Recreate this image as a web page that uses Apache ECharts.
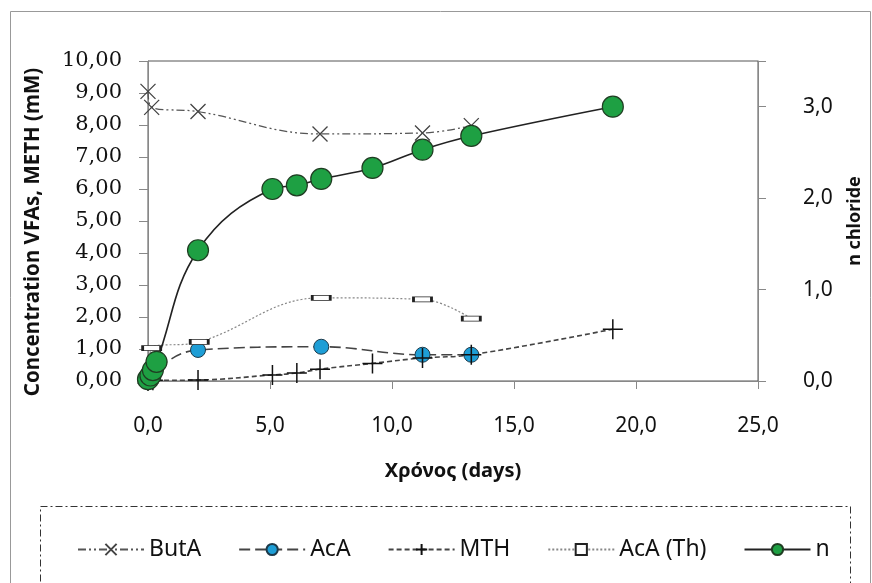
<!DOCTYPE html>
<html>
<head>
<meta charset="utf-8">
<script src="https://cdn.jsdelivr.net/npm/echarts@6/dist/echarts.min.js"></script>
<style>
  html, body { margin: 0; padding: 0; background: #fff; }
  #chart { width: 872px; height: 583px; }
</style>
</head>
<body>
<div id="chart"></div>
<script>
// values
const butaDays = [0, 0.15, 2.05, 7.05, 11.25, 13.25];
const butaVals = [9.05, 8.55, 8.42, 7.72, 7.75, 7.98];

const acaDays = [0, 0.25, 2.05, 7.1, 11.25, 13.25];
const acaVals = [0.05, 0.35, 0.97, 1.07, 0.82, 0.82];

const mthDays = [0, 0.2, 2.05, 5.1, 6.1, 7.05, 9.2, 11.25, 13.25, 19.05];
const mthVals = [0, 0.02, 0.03, 0.19, 0.25, 0.37, 0.55, 0.72, 0.82, 1.62];

const acaThDays = [0, 0.15, 2.1, 7.1, 11.25, 13.25];
const acaThVals = [0, 1.03, 1.22, 2.6, 2.55, 1.95];

const nDays = [0, 0.1, 0.2, 0.35, 2.05, 5.1, 6.1, 7.1, 9.2, 11.25, 13.25, 19.05];
const nVals = [0.02, 0.06, 0.12, 0.21, 1.43, 2.1, 2.14, 2.21, 2.33, 2.53, 2.68, 3.0];

const seriesNames = ['ButA', 'AcA', 'MTH', 'AcA (Th)', 'n'];

const pair = (xs, ys) => xs.map((x, i) => [x, ys[i]]);
const comma = (v, d) => v.toFixed(d).replace('.', ',');

const chart = echarts.init(document.getElementById('chart'));

const option = {
  backgroundColor: '#fff',
  animation: false,
  graphic: [
    {
      type: 'rect',
      shape: { x: 10.5, y: 11.5, width: 860, height: 580 },
      style: { fill: 'none', stroke: '#999', lineWidth: 1 },
      silent: true
    },
    {
      type: 'rect',
      shape: { x: 40.5, y: 506.5, width: 810, height: 90 },
      style: { fill: 'none', stroke: '#333', lineWidth: 1, lineDash: [7, 3, 2, 3] },
      silent: true
    }
  ],
  grid: {
    left: 148,
    right: 114,
    top: 61,
    bottom: 202,
    show: true,
    borderColor: '#555',
    borderWidth: 1
  },
  legend: {
    data: seriesNames,
    left: 72,
    top: 533,
    itemWidth: 66,
    itemHeight: 14,
    itemGap: 37,
    textStyle: { fontFamily: 'Noto Sans', fontSize: 23, color: '#111' }
  },
  xAxis: {
    type: 'value',
    min: 0,
    max: 25,
    interval: 5,
    name: 'Χρόνος (days)',
    nameLocation: 'middle',
    nameGap: 80,
    nameTextStyle: { fontFamily: 'Noto Sans', fontSize: 20, fontWeight: 'bold', color: '#111' },
    axisLine: { lineStyle: { color: '#888' } },
    axisTick: { length: 8, lineStyle: { color: '#888' } },
    axisLabel: {
      margin: 35,
      fontFamily: 'Noto Sans',
      fontSize: 21,
      color: '#111',
      formatter: v => comma(v, 1)
    },
    splitLine: { show: false }
  },
  yAxis: [
    {
      type: 'value',
      min: 0,
      max: 10,
      interval: 1,
      name: 'Concentration VFAs, METH (mM)',
      nameLocation: 'middle',
      nameGap: 104,
      nameTextStyle: {
        fontFamily: 'Noto Sans',
        fontSize: 20.5,
        fontWeight: 'bold',
        color: '#111',
        padding: [0, 22, 0, 0]
      },
      axisLine: { show: true, lineStyle: { color: '#888' } },
      axisTick: { show: true, length: 9, lineStyle: { color: '#888' } },
      axisLabel: {
        margin: 26,
        fontFamily: 'DejaVu Serif',
        fontSize: 21,
        color: '#111',
        formatter: v => comma(v, 2)
      },
      splitLine: { show: false }
    },
    {
      type: 'value',
      position: 'right',
      min: 0,
      max: 3.5,
      interval: 1,
      name: 'n chloride',
      nameLocation: 'middle',
      nameGap: 88,
      nameRotate: 90,
      nameTextStyle: { fontFamily: 'Noto Sans', fontSize: 18, fontWeight: 'bold', color: '#111' },
      axisLine: { show: true, lineStyle: { color: '#888' } },
      axisTick: { show: true, length: 8, lineStyle: { color: '#888' } },
      axisLabel: {
        margin: 45,
        fontFamily: 'Noto Sans',
        fontSize: 21,
        color: '#111',
        formatter: v => (v % 1 ? '' : comma(v, 1))
      },
      splitLine: { show: false }
    }
  ],
  series: [
    {
      name: 'ButA',
      type: 'line',
      smooth: 0.4,
      clip: false,
      data: pair(butaDays, butaVals),
      symbol: 'path://M0,0L10,10M10,0L0,10',
      symbolSize: 15,
      itemStyle: { color: '#444', borderColor: '#444', borderWidth: 1.3 },
      lineStyle: { color: '#555', width: 1.3, type: [8, 3, 2, 3, 2, 3] }
    },
    {
      name: 'AcA',
      type: 'line',
      smooth: 0.4,
      clip: false,
      data: pair(acaDays, acaVals),
      symbol: 'circle',
      symbolSize: 15,
      itemStyle: { color: '#1E9ED6', borderColor: '#1d3a4a', borderWidth: 1 },
      lineStyle: { color: '#444', width: 1.6, type: [11, 5] }
    },
    {
      name: 'MTH',
      type: 'line',
      smooth: 0.4,
      clip: false,
      data: pair(mthDays, mthVals),
      symbol: 'path://M5,0L5,10M0,5L10,5',
      symbolSize: 20,
      itemStyle: { color: '#111', borderColor: '#111', borderWidth: 1.5 },
      lineStyle: { color: '#444', width: 1.6, type: [5, 3] }
    },
    {
      name: 'AcA (Th)',
      type: 'line',
      smooth: 0.4,
      clip: false,
      data: pair(acaThDays, acaThVals),
      symbol: 'rect',
      symbolSize: [18, 5],
      itemStyle: { color: '#fff', borderColor: '#222', borderWidth: 1.5 },
      lineStyle: { color: '#888', width: 1.2, type: [2, 2] }
    },
    {
      name: 'n',
      type: 'line',
      yAxisIndex: 1,
      smooth: 0.4,
      clip: false,
      data: pair(nDays, nVals),
      symbol: 'circle',
      symbolSize: 21,
      itemStyle: { color: '#1EA043', borderColor: '#1f3d22', borderWidth: 1.2 },
      lineStyle: { color: '#222', width: 1.6 }
    }
  ]
};

chart.setOption(option);
</script>
</body>
</html>
